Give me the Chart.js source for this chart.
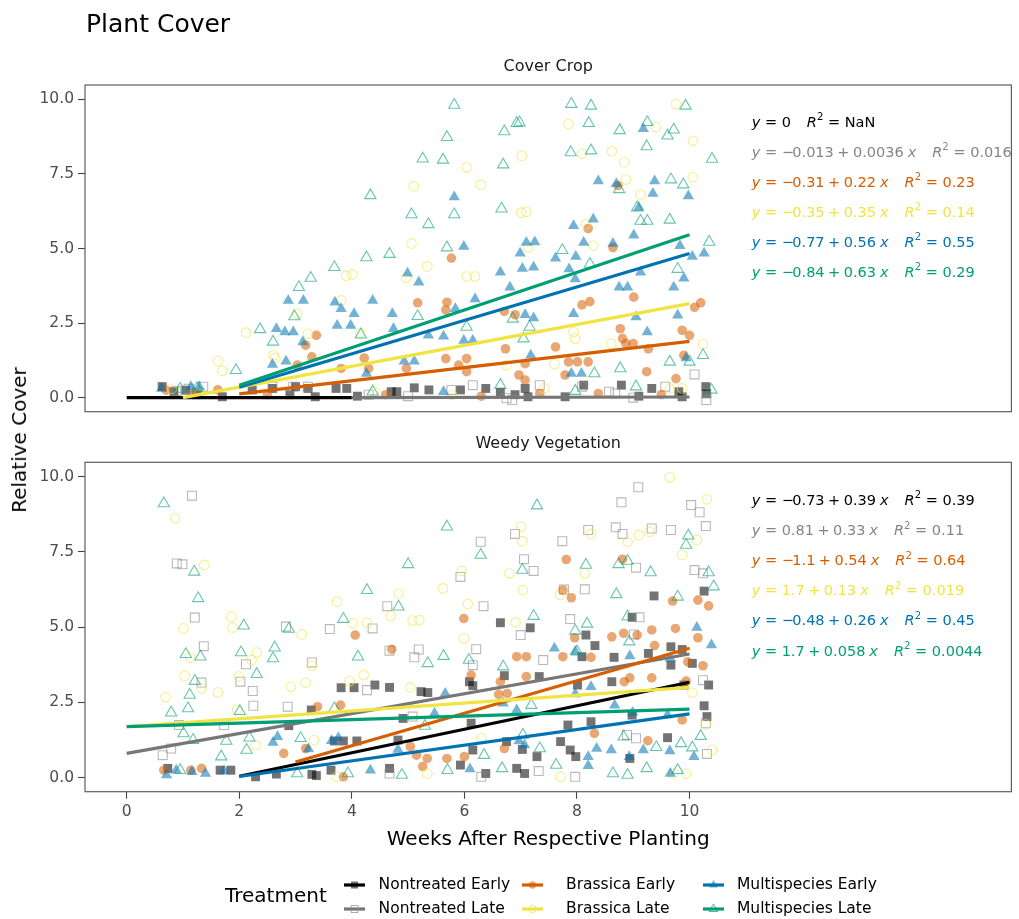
<!DOCTYPE html>
<html>
<head>
<meta charset="utf-8">
<script src="https://cdn.jsdelivr.net/npm/chart.js@4.4.1/dist/chart.umd.min.js"></script>
<style>
html,body{margin:0;padding:0;background:#fff;}
#wrap{position:relative;width:1019px;height:919px;overflow:hidden;background:#fff;}
#c1{position:absolute;left:0;top:0;}
#c2{position:absolute;left:0;top:425px;}
#ytitle{position:absolute;left:19px;top:439.5px;transform:translate(-50%,-50%) rotate(-90deg);white-space:nowrap;font-family:"DejaVu Sans";font-size:20px;color:#000;line-height:1;}
</style>
</head>
<body>
<div id="wrap">
<canvas id="c1" width="1019" height="425"></canvas>
<canvas id="c2" width="1019" height="494"></canvas>
<div id="ytitle">Relative Cover</div>
</div>
<script>
// ---------- DATA ----------
const treatments = ["Nontreated Early","Nontreated Late","Brassica Early","Brassica Late","Multispecies Early","Multispecies Late"];
const panelTitles = ["Cover Crop","Weedy Vegetation"];
const xTicks = [0,2,4,6,8,10];
const yTicks = [0,2.5,5,7.5,10];

// Cover Crop panel points [week, relative cover]
const coverNontreatedEarly = [[0.63,0.37],[0.84,0.2],[1.05,0.25],[1.25,0.1],[1.7,0.03],[2.23,0.26],[2.59,0.31],[2.9,0.1],[3.0,0.37],[3.22,0.31],[3.35,0.03],[3.72,0.31],[3.91,0.31],[4.1,0.05],[4.7,0.2],[4.8,0.2],[5.11,0.33],[5.37,0.26],[5.93,0.26],[6.38,0.31],[6.64,0.18],[6.9,0.1],[7.08,0.31],[7.13,0.03],[7.79,0.03],[8.12,0.42],[8.79,0.42],[9.1,0.05],[9.33,0.31],[9.81,0.2],[9.87,0.03],[10.29,0.37],[10.3,0.14]];
const coverNontreatedLate = [[0.88,0.22],[1.1,0.3],[1.36,0.37],[2.59,0.37],[2.96,0.37],[3.22,0.37],[4.3,0.1],[5.0,0.05],[5.77,0.26],[6.15,0.42],[6.75,-0.02],[6.85,-0.08],[7.34,0.42],[8.09,0.37],[8.57,0.2],[8.68,0.14],[9.0,0.0],[9.57,0.37],[10.09,0.78],[10.3,0.14],[10.3,-0.08]];
const coverBrassicaEarly = [[0.7,0.25],[1.2,0.15],[1.62,0.26],[2.5,0.1],[3.03,1.09],[3.18,1.76],[3.29,1.37],[3.37,2.09],[3.81,0.98],[4.22,1.33],[4.3,0.98],[4.6,0.1],[4.97,0.98],[5.17,3.18],[5.67,2.94],[5.67,1.31],[5.69,3.2],[5.77,4.68],[5.9,1.09],[6.04,1.31],[6.04,0.87],[6.3,0.05],[6.71,2.89],[6.73,1.64],[6.9,2.78],[6.97,0.76],[7.08,1.14],[7.08,0.59],[7.34,0.14],[7.62,1.7],[7.79,0.76],[7.85,1.2],[8.01,1.2],[8.09,3.11],[8.2,5.67],[8.2,1.2],[8.23,3.22],[8.38,0.14],[8.64,5.03],[8.73,7.11],[8.77,2.31],[8.81,1.98],[8.87,1.81],[9.0,1.81],[9.01,3.37],[9.24,0.87],[9.27,1.64],[9.5,0.1],[9.76,0.64],[9.87,2.26],[9.9,1.42],[10.0,2.09],[10.09,3.03],[10.2,3.18]];
const coverBrassicaLate = [[0.8,0.3],[1.3,0.2],[1.62,1.23],[1.7,0.9],[2.12,2.18],[2.61,1.42],[2.64,1.33],[3.03,2.81],[3.22,2.14],[3.81,3.26],[3.9,4.09],[4.01,4.13],[4.15,2.17],[4.4,0.2],[4.96,4.02],[5.06,5.17],[5.1,7.09],[5.34,4.4],[5.78,0.09],[6.04,7.72],[6.04,4.06],[6.19,4.06],[6.29,7.14],[6.75,1.09],[7.01,6.2],[7.02,8.11],[7.1,6.23],[7.13,5.03],[7.42,0.31],[7.6,1.12],[7.85,9.17],[7.94,2.2],[7.97,1.98],[8.09,8.18],[8.16,5.81],[8.29,5.09],[8.61,1.81],[8.62,8.26],[8.84,7.89],[8.87,7.31],[9.13,6.81],[9.4,9.07],[9.65,0.31],[9.76,9.84],[9.87,0.31],[10.06,8.61],[10.06,7.39],[10.24,1.79]];
const coverMultispeciesEarly = [[0.62,0.31],[1.14,0.37],[1.29,0.37],[2.59,1.11],[2.66,2.31],[2.81,2.2],[2.83,1.22],[2.87,3.26],[2.96,2.2],[3.13,1.87],[3.14,3.26],[3.7,3.2],[3.74,2.42],[3.81,2.98],[3.98,2.42],[4.04,2.81],[4.26,0.81],[4.37,3.26],[4.72,2.81],[4.74,2.31],[4.93,1.22],[4.99,4.17],[5.11,1.22],[5.19,3.87],[5.36,2.09],[5.63,2.06],[5.63,0.2],[5.82,6.73],[5.84,2.98],[5.99,5.07],[5.99,1.92],[6.15,1.92],[6.19,3.31],[6.64,4.2],[6.81,3.7],[6.99,4.84],[7.03,4.33],[7.08,2.78],[7.1,5.2],[7.18,1.42],[7.23,4.37],[7.23,2.67],[7.25,5.22],[7.62,4.67],[7.86,4.31],[7.9,0.81],[7.94,5.76],[7.94,2.81],[7.97,3.98],[7.98,4.73],[8.08,0.81],[8.12,5.2],[8.29,5.98],[8.38,7.26],[8.64,5.17],[8.7,7.17],[8.75,3.7],[8.9,3.7],[9.01,5.44],[9.05,2.7],[9.1,6.37],[9.13,4.2],[9.18,9.01],[9.25,2.2],[9.35,6.84],[9.38,7.26],[9.72,3.7],[9.79,2.76],[9.83,5.09],[9.9,4.0],[9.94,1.33],[9.98,6.76],[10.05,4.73],[10.26,4.84]];
const coverMultispeciesLate = [[0.95,0.29],[1.25,0.31],[1.94,0.92],[2.37,2.29],[2.6,1.87],[2.98,2.72],[3.06,3.7],[3.27,4.01],[3.69,4.37],[4.16,2.11],[4.26,4.7],[4.33,6.78],[4.37,0.2],[4.67,4.81],[5.06,6.14],[5.17,2.73],[5.26,8.01],[5.36,5.81],[5.62,7.97],[5.69,8.73],[5.69,5.03],[5.82,9.81],[5.82,6.14],[6.04,2.37],[6.64,0.42],[6.66,6.33],[6.69,7.81],[6.71,8.92],[6.86,2.64],[6.93,9.2],[6.98,9.22],[7.05,1.98],[7.16,2.37],[7.74,4.94],[7.89,8.22],[7.9,9.84],[7.97,0.22],[8.21,9.2],[8.23,4.48],[8.25,9.78],[8.25,8.28],[8.31,0.81],[8.75,6.98],[8.76,8.96],[8.77,0.98],[9.05,0.37],[9.07,6.37],[9.13,5.92],[9.24,8.42],[9.25,9.23],[9.25,5.92],[9.61,8.78],[9.65,5.96],[9.65,1.2],[9.67,7.31],[9.72,8.98],[9.79,4.31],[9.89,7.14],[9.93,9.78],[10.0,1.2],[10.24,1.42],[10.35,5.22],[10.39,0.26],[10.4,8.0]];

// Weedy Vegetation panel points
const weedyNontreatedEarly = [[0.73,0.31],[1.66,0.25],[1.85,0.25],[2.29,0.03],[2.66,0.12],[2.88,1.73],[3.28,2.25],[3.29,0.11],[3.37,0.07],[3.63,0.25],[3.69,1.22],[3.81,2.99],[3.85,1.22],[4.04,2.99],[4.09,1.22],[4.41,3.08],[4.67,3.0],[4.67,0.31],[4.82,1.25],[4.91,1.97],[5.23,2.86],[5.35,2.83],[5.93,0.42],[6.09,3.19],[6.12,1.81],[6.15,3.06],[6.15,0.92],[6.38,0.14],[6.64,5.15],[6.71,3.39],[6.75,1.2],[6.93,0.31],[7.03,0.94],[7.07,0.14],[7.17,4.98],[7.29,0.7],[7.33,3.36],[7.71,1.2],[7.84,1.75],[7.88,0.92],[7.98,0.7],[8.01,3.08],[8.09,4.02],[8.16,4.74],[8.25,1.86],[8.32,4.39],[8.62,3.19],[8.66,4.0],[8.94,0.64],[8.98,5.33],[8.98,2.08],[9.27,4.13],[9.37,6.04],[9.61,1.33],[9.67,3.74],[9.67,4.35],[9.87,4.26],[9.9,3.08],[10.05,3.8],[10.26,6.2],[10.26,2.39],[10.31,2.03],[10.34,3.08]];
const weedyNontreatedLate = [[0.64,0.75],[0.79,0.97],[0.89,7.12],[0.93,1.75],[0.99,7.09],[1.16,9.37],[1.21,5.32],[1.33,3.16],[1.37,4.37],[1.73,1.75],[2.02,3.19],[2.12,3.77],[2.24,2.88],[2.25,2.39],[2.83,5.02],[2.86,2.36],[3.29,3.83],[3.61,4.94],[4.27,2.91],[4.37,4.96],[4.63,5.7],[4.67,4.22],[4.67,0.14],[5.08,2.03],[5.11,4.0],[5.19,4.26],[5.93,6.67],[6.15,3.74],[6.21,4.27],[6.29,7.84],[6.3,0.03],[6.34,5.7],[6.9,8.1],[7.0,4.74],[7.06,7.26],[7.23,6.87],[7.32,0.22],[7.4,3.91],[7.74,7.86],[7.77,6.25],[7.88,5.27],[7.97,0.03],[8.14,6.26],[8.2,8.23],[8.69,8.32],[8.79,9.15],[8.81,8.1],[8.89,1.42],[9.01,4.76],[9.05,6.98],[9.05,1.31],[9.09,9.65],[9.11,5.33],[9.33,8.28],[9.67,8.23],[10.03,9.06],[10.09,6.9],[10.18,8.82],[10.24,6.79],[10.24,3.24],[10.29,8.36],[10.29,1.81],[10.31,0.79]];
const weedyBrassicaEarly = [[0.66,0.25],[1.14,0.25],[1.33,0.31],[2.79,0.81],[3.18,0.97],[3.39,2.36],[3.8,2.41],[3.85,0.03],[4.06,4.74],[4.71,4.27],[5.04,1.03],[5.15,0.75],[5.26,0.37],[5.34,0.64],[5.69,0.64],[5.99,5.29],[6.0,0.7],[6.12,3.41],[6.61,2.77],[6.64,3.19],[6.71,0.97],[6.76,2.8],[6.93,4.02],[7.1,4.02],[7.1,3.36],[7.75,6.23],[7.75,4.02],[7.81,7.25],[7.9,5.98],[7.96,4.65],[8.25,4.0],[8.31,1.47],[8.62,4.68],[8.81,7.26],[8.83,4.8],[8.84,3.19],[8.94,3.32],[9.07,4.74],[9.26,1.23],[9.33,4.91],[9.33,3.32],[9.38,4.39],[9.7,5.87],[9.75,4.96],[9.87,1.92],[9.94,3.21],[9.97,3.85],[10.15,5.9],[10.15,4.65],[10.24,3.72],[10.34,5.71]];
const weedyBrassicaLate = [[0.69,2.67],[0.86,8.62],[1.01,4.96],[1.03,3.39],[1.13,3.99],[1.33,2.97],[1.38,7.07],[1.62,2.83],[1.86,5.35],[1.88,4.99],[1.96,2.25],[1.99,3.36],[2.22,3.91],[2.29,1.09],[2.31,4.16],[2.92,3.02],[3.11,4.76],[3.18,3.16],[3.29,3.72],[3.33,1.25],[3.73,0.03],[3.74,5.85],[3.96,3.21],[4.01,5.13],[4.21,3.41],[4.27,5.15],[4.69,5.37],[4.83,6.12],[5.04,3.0],[5.08,5.22],[5.2,5.24],[5.34,0.14],[5.62,6.29],[5.95,6.87],[5.99,4.63],[6.06,5.77],[6.3,1.31],[6.8,6.79],[6.91,5.16],[7.01,8.34],[7.03,7.86],[7.04,6.23],[7.7,6.07],[7.71,0.03],[8.14,6.79],[8.25,8.1],[8.9,7.84],[9.1,8.06],[9.29,8.17],[9.65,9.98],[9.71,0.14],[9.87,7.4],[9.94,0.14],[10.05,2.82],[10.13,7.9],[10.29,1.77],[10.31,9.25],[10.4,0.92]];
const weedyMultispeciesEarly = [[0.71,0.09],[0.88,0.25],[1.16,0.2],[1.4,0.14],[1.73,0.22],[2.6,1.17],[2.68,1.36],[3.23,0.95],[3.64,1.23],[3.76,1.33],[4.33,0.25],[4.82,0.94],[5.47,2.14],[5.66,2.8],[6.1,0.29],[6.69,2.47],[6.93,2.25],[6.97,1.22],[7.07,1.09],[7.6,4.3],[7.97,4.19],[7.97,2.78],[8.2,0.7],[8.2,0.4],[8.25,3.02],[8.35,0.97],[8.61,0.92],[8.67,2.41],[8.93,0.7],[8.94,4.04],[8.99,2.17],[9.18,0.92],[9.61,2.08],[9.65,0.89],[9.66,3.96],[9.66,0.14],[10.08,0.7],[10.13,4.99],[10.39,4.41]];
const weedyMultispeciesLate = [[0.66,9.11],[0.79,2.16],[0.95,0.25],[1.01,1.47],[1.05,4.1],[1.09,2.3],[1.12,2.75],[1.18,1.25],[1.2,6.84],[1.21,3.21],[1.27,5.96],[1.31,4.02],[1.68,0.7],[1.77,1.22],[2.01,2.21],[2.03,4.16],[2.08,5.05],[2.13,0.92],[2.18,1.33],[2.31,3.44],[2.6,3.96],[2.63,4.32],[2.88,4.94],[3.03,0.14],[3.09,1.31],[3.69,2.3],[3.85,5.27],[3.93,0.14],[4.11,4.02],[4.27,6.23],[4.83,5.68],[4.89,0.09],[5.0,7.09],[5.3,1.72],[5.35,3.8],[5.63,4.04],[5.69,8.34],[5.7,0.25],[6.08,3.91],[6.29,7.4],[6.35,0.75],[6.67,0.31],[6.69,3.69],[7.03,6.9],[7.04,1.42],[7.19,2.41],[7.23,5.37],[7.29,9.04],[7.34,0.97],[7.63,0.42],[7.97,4.88],[8.0,4.19],[8.16,7.07],[8.18,5.11],[8.64,0.14],[8.7,6.09],[8.74,7.09],[8.83,1.36],[8.9,7.2],[8.9,5.35],[8.9,0.09],[8.93,4.52],[9.24,0.31],[9.31,6.82],[9.41,1.01],[9.79,6.01],[9.79,0.25],[9.85,1.14],[9.94,7.73],[9.98,8.04],[10.05,1.0],[10.2,1.38],[10.34,6.82],[10.43,6.35]];

// Fitted lines (intercept, slope, R^2, x-range of fit)
const coverIntercept = [0, -0.013, -0.31, -0.35, -0.77, -0.84];
const coverSlope = [0, 0.0036, 0.22, 0.35, 0.56, 0.63];
const coverR2 = [NaN, 0.016, 0.23, 0.14, 0.55, 0.29];
const coverFitFrom = [0, 4, 2, 1, 2, 2];
const coverFitTo = [4, 10, 10, 10, 10, 10];
const weedyIntercept = [-0.73, 0.81, -1.1, 1.7, -0.48, 1.7];
const weedySlope = [0.39, 0.33, 0.54, 0.13, 0.26, 0.058];
const weedyR2 = [0.39, 0.11, 0.64, 0.019, 0.45, 0.0044];
const weedyFitFrom = [2, 0, 3, 0, 2, 0];
const weedyFitTo = [10, 10, 10, 10, 10, 10];

// ---------- STYLE ----------
const FONT = '"DejaVu Sans"';
const colors = ['#000000','#777777','#D55E00','#F0E442','#0072B2','#009E73'];
const textColors = ['#000000','#858585','#D55E00','#F0E442','#0072B2','#009E73'];
const shapes = ['rect','rect','circle','circle','triangle','triangle'];
const filled = [true,false,true,false,true,false];
const radius = {rect:6.3, circle:4.8, triangle:6.5};
const X_MIN = -0.741, X_MAX = 15.72;
const EQ_SIZE = 14.5;

function rgba(hex, a){
  const n = parseInt(hex.slice(1),16);
  return `rgba(${(n>>16)&255},${(n>>8)&255},${n&255},${a})`;
}
function pointDataset(pts, i){
  const f = filled[i];
  const c = (i===1) ? '#8a8a8a' : colors[i];
  return {
    data: pts.map(p=>({x:p[0],y:p[1]})),
    pointStyle: shapes[i],
    pointRadius: radius[shapes[i]],
    pointHoverRadius: radius[shapes[i]],
    backgroundColor: f ? rgba(c,0.55) : 'rgba(0,0,0,0)',
    borderColor: f ? 'rgba(0,0,0,0)' : rgba(c,0.6),
    borderWidth: f ? 0 : 1.1,
    showLine: false,
    order: 100 - i,
    clip: false
  };
}
function lineDataset(a,b,x0,x1,i){
  return {
    data: [{x:x0,y:a+b*x0},{x:x1,y:a+b*x1}],
    showLine: true, pointRadius: 0, pointHoverRadius:0,
    borderColor: colors[i], borderWidth: 3.2, fill:false,
    order: 20 - i
  };
}
function buildDatasets(series, ic, sl, from, to){
  const ds = [];
  series.forEach((s,i)=>ds.push(pointDataset(s,i)));
  ic.forEach((a,i)=>ds.push(lineDataset(a, sl[i], from[i], to[i], i)));
  return ds;
}
// equation tokens: [text, style]; style 'g' = gap in px
function numParts(v){
  return v<0 ? [['\u2212','n'],[-1.5,'g'],[String(Math.abs(v)),'n']] : [[String(v),'n']];
}
function eqParts(a,b,r2){
  let p = [['y','i'],[' = ','n']];
  if (b === 0) p = p.concat(numParts(a));
  else p = p.concat(numParts(a), [[3.5,'g'],['+','n'],[3.5,'g']], numParts(b), [[4,'g'],['x','i']]);
  p.push([16,'g'],['R','i'],['2','s'],[' = ','n'],[isNaN(r2)?'NaN':String(r2),'n']);
  return p;
}
function drawParts(ctx, x, y, parts, color, size){
  ctx.save();
  ctx.fillStyle = color; ctx.textAlign='left'; ctx.textBaseline='alphabetic';
  let cx = x;
  for (const [t,st] of parts){
    if (st==='g'){ cx += t; continue; }
    if (st==='i') ctx.font = `oblique ${size}px ${FONT}`;
    else if (st==='s') ctx.font = `${size*0.7}px ${FONT}`;
    else ctx.font = `${size}px ${FONT}`;
    ctx.fillText(t, cx, y + (st==='s' ? -size*0.45 : 0));
    cx += ctx.measureText(t).width;
  }
  ctx.restore();
}
function drawKeyPoint(ctx, x, y, i, r){
  ctx.save();
  const c = (i===1) ? '#8a8a8a' : colors[i];
  ctx.beginPath();
  if (shapes[i]==='rect'){ ctx.rect(x-r*0.7, y-r*0.7, r*1.4, r*1.4); }
  else if (shapes[i]==='circle'){ ctx.arc(x,y,r*0.75,0,Math.PI*2); }
  else { ctx.moveTo(x, y-r); ctx.lineTo(x+r*0.866, y+r*0.5); ctx.lineTo(x-r*0.866, y+r*0.5); ctx.closePath(); }
  if (filled[i]){ ctx.fillStyle = rgba(c,0.55); ctx.fill(); }
  else { ctx.strokeStyle = rgba(c,0.7); ctx.lineWidth=1; ctx.stroke(); }
  ctx.restore();
}

function panelPlugin(opts){
  return {
    id: 'panel'+opts.key,
    afterDraw(chart){
      const ctx = chart.ctx, a = chart.chartArea;
      ctx.save();
      // panel border
      ctx.strokeStyle = '#5e5e5e'; ctx.lineWidth = 1.2;
      ctx.strokeRect(a.left, a.top, a.right-a.left, a.bottom-a.top);
      // strip label
      ctx.fillStyle = '#1a1a1a'; ctx.font = `16px ${FONT}`;
      ctx.textAlign='center'; ctx.textBaseline='alphabetic';
      ctx.fillText(opts.strip, (a.left+a.right)/2, a.top-14);
      // plot title
      if (opts.title){
        ctx.fillStyle = '#000'; ctx.font = `25px ${FONT}`; ctx.textAlign='left';
        ctx.fillText(opts.title, 86, 32.3);
      }
      // equations
      opts.ic.forEach((v,i)=>{
        drawParts(ctx, 751.7, a.top + opts.eqTop + i*opts.eqStep, eqParts(v, opts.sl[i], opts.r2[i]), textColors[i], EQ_SIZE);
      });
      // legend
      if (opts.legend){
        const off = opts.legendOffset;
        ctx.fillStyle = '#000'; ctx.font = `20px ${FONT}`; ctx.textAlign='left'; ctx.textBaseline='middle';
        ctx.fillText('Treatment', 225, 897 - off);
        const cols = [[344,378.6],[522,566],[703,737]];
        const rows = [885, 909];
        treatments.forEach((t,i)=>{
          const col = cols[Math.floor(i/2)], row = rows[i%2] - off;
          ctx.strokeStyle = colors[i]; ctx.lineWidth = 3.2;
          ctx.beginPath(); ctx.moveTo(col[0], row); ctx.lineTo(col[0]+21, row); ctx.stroke();
          drawKeyPoint(ctx, col[0]+10.5, row, i, 5);
          ctx.fillStyle = '#000'; ctx.font = `15.5px ${FONT}`; ctx.textBaseline='middle';
          ctx.fillText(t, col[1], row);
        });
      }
      ctx.restore();
    }
  };
}

Chart.defaults.font.family = FONT;

function yScale(min,max){
  return {
    type:'linear', min:min, max:max,
    afterFit: s=>{ s.width = 85; },
    afterBuildTicks: s=>{ s.ticks = yTicks.map(v=>({value:v})); },
    ticks:{ color:'#4d4d4d', font:{size:15.5}, padding:4, callback:v=>Number(v).toFixed(1) },
    grid:{ display:true, drawOnChartArea:false, drawTicks:true, tickLength:7, tickColor:'#444', tickWidth:1.1 },
    border:{ display:false }
  };
}

new Chart(document.getElementById('c1'), {
  type:'scatter',
  data:{ datasets: buildDatasets([coverNontreatedEarly,coverNontreatedLate,coverBrassicaEarly,coverBrassicaLate,coverMultispeciesEarly,coverMultispeciesLate], coverIntercept, coverSlope, coverFitFrom, coverFitTo) },
  options:{
    responsive:false, animation:false, devicePixelRatio:1,
    layout:{ padding:{ left:0, top:85, right:1.3, bottom:11.7 } },
    plugins:{ legend:{display:false}, tooltip:{enabled:false} },
    scales:{
      x:{ type:'linear', display:false, min:X_MIN, max:X_MAX },
      y: yScale(-0.47, 10.48)
    }
  },
  plugins:[ panelPlugin({key:'A', strip:panelTitles[0], title:'Plant Cover', ic:coverIntercept, sl:coverSlope, r2:coverR2, eqTop:41.5, eqStep:30, legend:false}) ]
});

new Chart(document.getElementById('c2'), {
  type:'scatter',
  data:{ datasets: buildDatasets([weedyNontreatedEarly,weedyNontreatedLate,weedyBrassicaEarly,weedyBrassicaLate,weedyMultispeciesEarly,weedyMultispeciesLate], weedyIntercept, weedySlope, weedyFitFrom, weedyFitTo) },
  options:{
    responsive:false, animation:false, devicePixelRatio:1,
    layout:{ padding:{ left:0, top:37.3, right:1.3, bottom:67 } },
    plugins:{ legend:{display:false}, tooltip:{enabled:false} },
    scales:{
      x:{ type:'linear', min:X_MIN, max:X_MAX,
          afterFit: s=>{ s.height = 60.3; },
          afterBuildTicks: s=>{ s.ticks = xTicks.map(v=>({value:v})); },
          ticks:{ color:'#4d4d4d', font:{size:15.5}, padding:4, maxRotation:0, autoSkip:false },
          grid:{ display:true, drawOnChartArea:false, drawTicks:true, tickLength:7, tickColor:'#444', tickWidth:1.1 },
          border:{ display:false },
          title:{ display:true, text:'Weeks After Respective Planting', color:'#000', font:{size:20}, padding:{top:0,bottom:0} } },
      y: yScale(-0.465, 10.48)
    }
  },
  plugins:[ panelPlugin({key:'B', strip:panelTitles[1], title:null, ic:weedyIntercept, sl:weedySlope, r2:weedyR2, eqTop:42.7, eqStep:30.1, legend:true, legendOffset:425}) ]
});
</script>
</body>
</html>
